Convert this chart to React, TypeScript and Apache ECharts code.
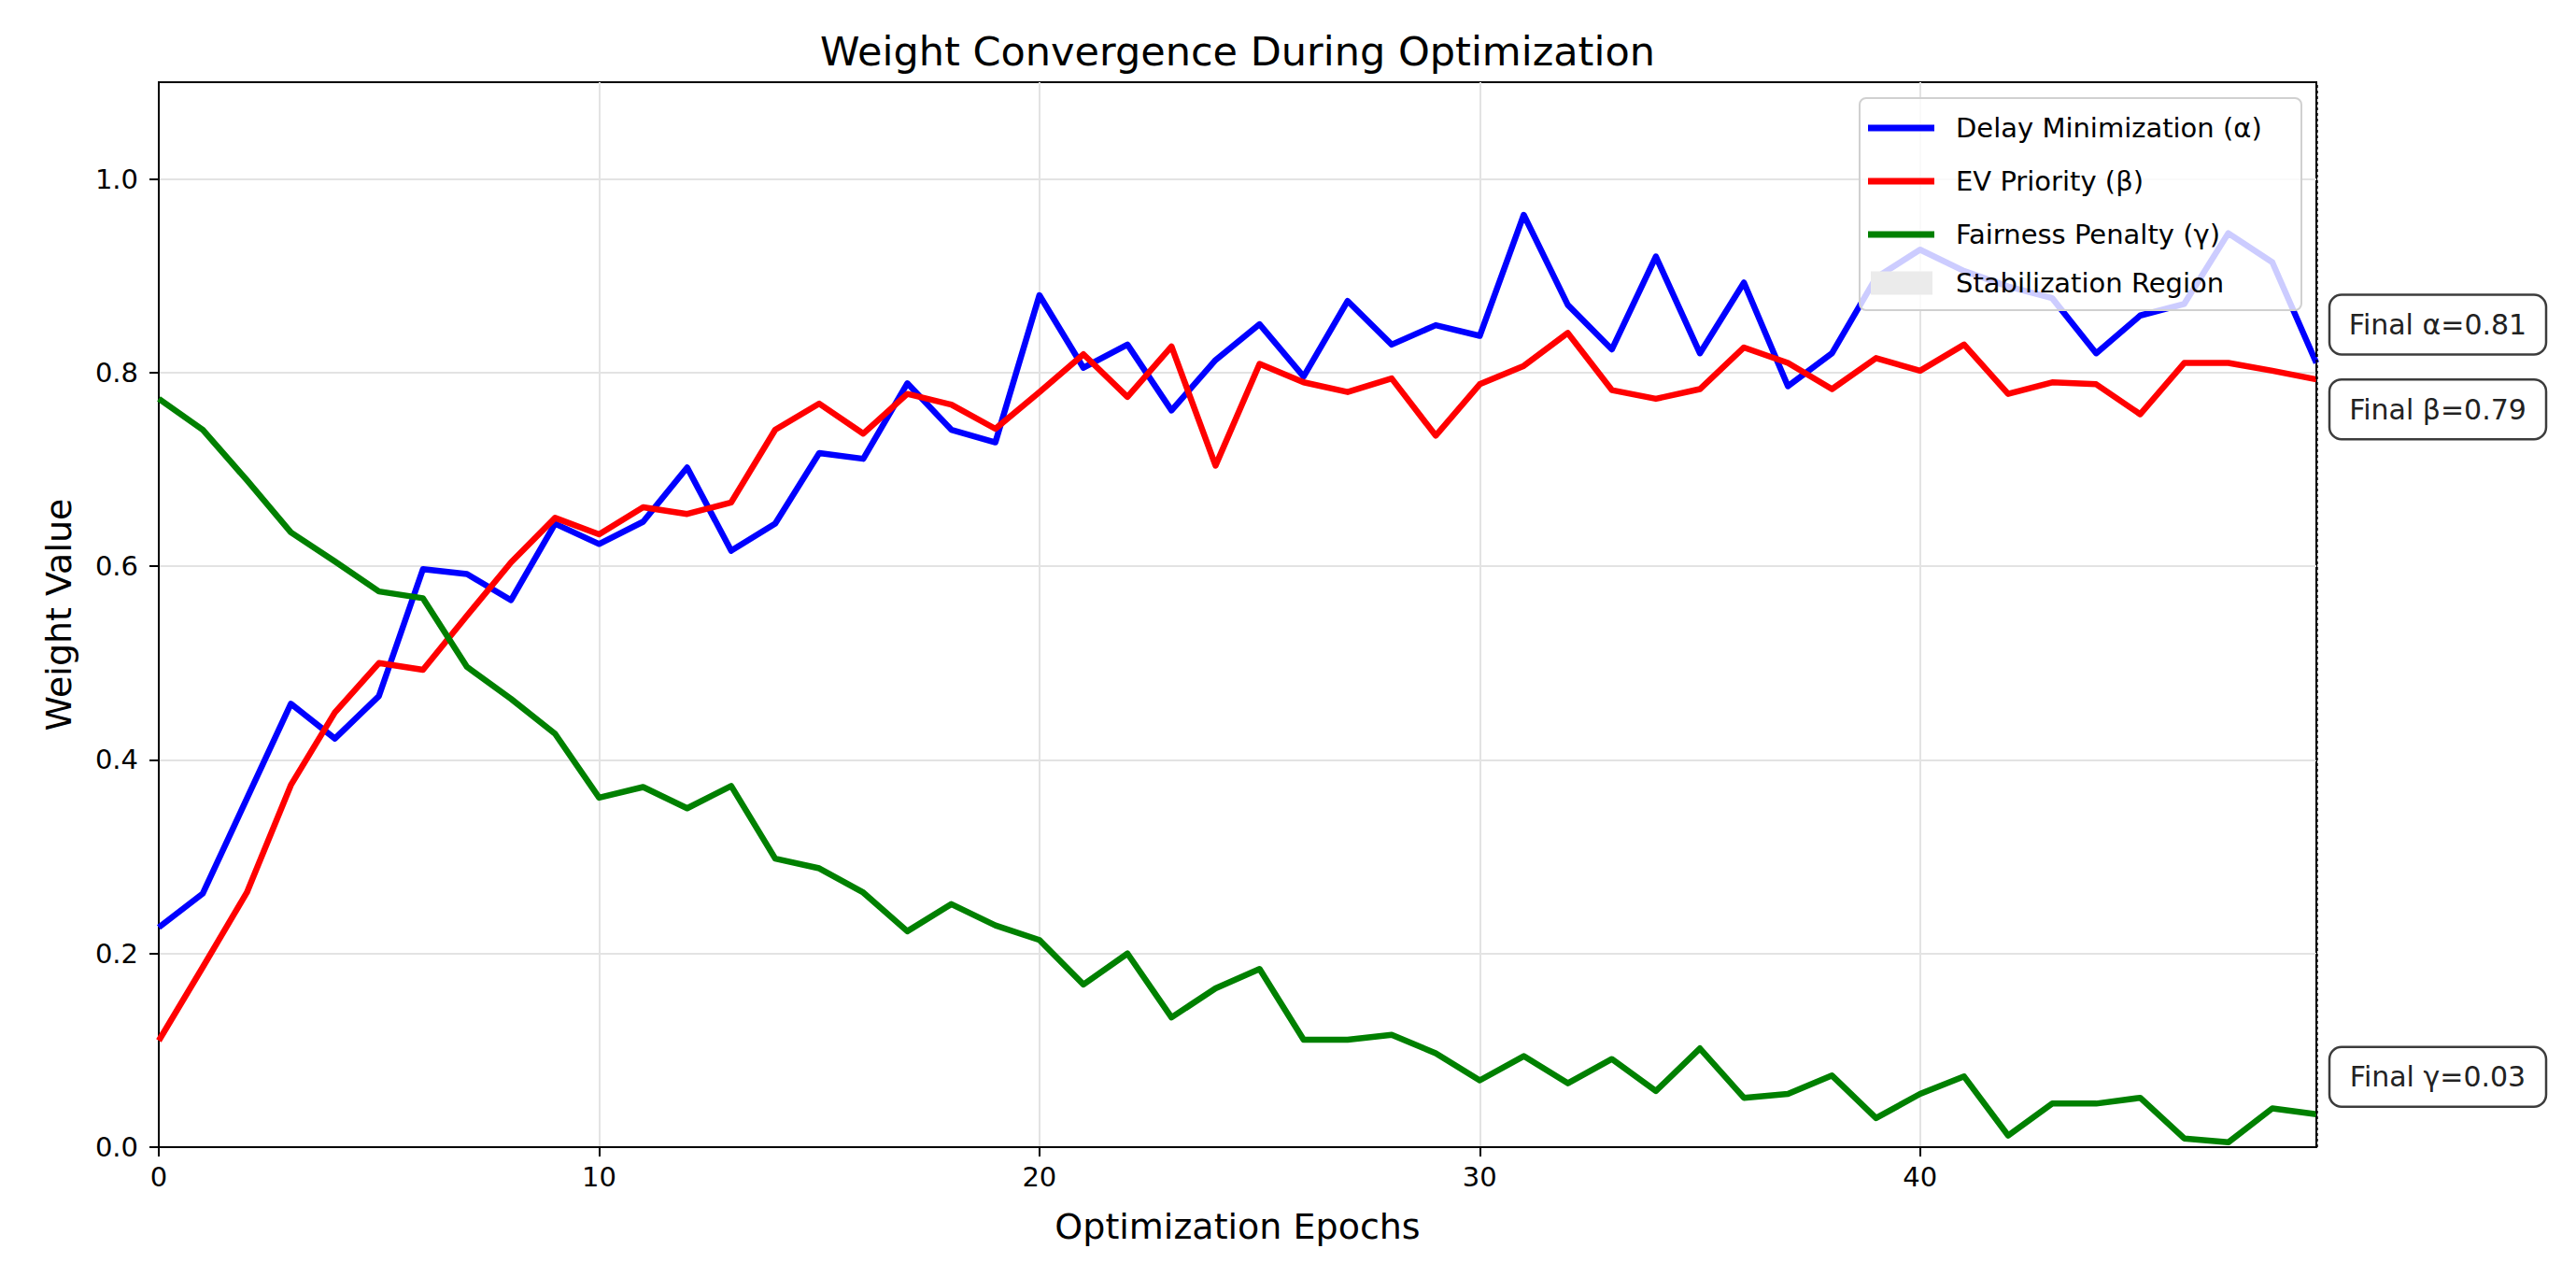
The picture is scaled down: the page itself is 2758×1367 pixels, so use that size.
import React, { useEffect, useRef } from "react";
import * as echarts from "echarts";

const epochs = Array.from({ length: 50 }, (_, i) => i);

const alphaValues = [
  0.227, 0.262, 0.36, 0.458, 0.422, 0.466, 0.597, 0.592, 0.565, 0.644,
  0.623, 0.646, 0.702, 0.616, 0.644, 0.717, 0.711, 0.789, 0.741, 0.728,
  0.88, 0.805, 0.829, 0.761, 0.813, 0.85, 0.796, 0.874, 0.829, 0.849,
  0.838, 0.963, 0.87, 0.824, 0.92, 0.82, 0.893, 0.786, 0.82, 0.898,
  0.927, 0.905, 0.889, 0.877, 0.82, 0.859, 0.871, 0.944, 0.914, 0.81,
];

const betaValues = [
  0.11, 0.186, 0.263, 0.374, 0.449, 0.5, 0.493, 0.549, 0.604, 0.65,
  0.633, 0.661, 0.654, 0.666, 0.741, 0.768, 0.737, 0.778, 0.767, 0.742,
  0.78, 0.819, 0.775, 0.827, 0.704, 0.809, 0.79, 0.78, 0.794, 0.735,
  0.788, 0.807, 0.841, 0.782, 0.773, 0.783, 0.826, 0.81, 0.783, 0.815,
  0.802, 0.829, 0.778, 0.79, 0.788, 0.757, 0.81, 0.81, 0.802, 0.793,
];

const gammaValues = [
  0.773, 0.741, 0.689, 0.635, 0.605, 0.574, 0.567, 0.496, 0.463, 0.427,
  0.361, 0.372, 0.35, 0.373, 0.298, 0.288, 0.263, 0.223, 0.251, 0.229,
  0.214, 0.168, 0.2, 0.134, 0.164, 0.184, 0.111, 0.111, 0.116, 0.097,
  0.069, 0.094, 0.066, 0.091, 0.058, 0.102, 0.051, 0.055, 0.074, 0.03,
  0.055, 0.073, 0.012, 0.045, 0.045, 0.051, 0.009, 0.005, 0.04, 0.034,
];

const xTicks = [0, 10, 20, 30, 40];
const yTicks = [0, 0.2, 0.4, 0.6, 0.8, 1.0];

const seriesNames = [
  "Delay Minimization (α)",
  "EV Priority (β)",
  "Fairness Penalty (γ)",
];
const regionName = "Stabilization Region";
const stabilizationEpoch = 49;

const FONT = "DejaVu Sans";

export default function App() {
  const ref = useRef<HTMLDivElement>(null);

  useEffect(() => {
    if (!ref.current) return;
    const chart = echarts.init(ref.current, null, { renderer: "svg" });

    const toPairs = (vals: number[]) => vals.map((v, i) => [epochs[i], v]);
    const lineSeries = (name: string, vals: number[], color: string, extra: any = {}) => ({
      type: "line",
      name,
      data: toPairs(vals),
      symbol: "none",
      color,
      lineStyle: { color, width: 6.5, join: "round", cap: "butt" },
      z: 2,
      ...extra,
    });

    const option: any = {
      animation: false,
      backgroundColor: "#ffffff",
      textStyle: { fontFamily: FONT },
      title: {
        text: "Weight Convergence During Optimization",
        left: 1325,
        top: 33,
        textAlign: "center",
        padding: 0,
        textStyle: { fontSize: 43, fontWeight: "normal", color: "#000", fontFamily: FONT },
      },
      grid: {
        left: 170,
        right: 278,
        top: 88,
        bottom: 139,
        show: true,
        borderColor: "#000",
        borderWidth: 2,
        backgroundColor: "transparent",
      },
      xAxis: {
        type: "value",
        min: 0,
        max: 49,
        interval: 10,
        name: "Optimization Epochs",
        nameLocation: "middle",
        nameGap: 66,
        nameTextStyle: { fontSize: 38, color: "#000", fontFamily: FONT },
        axisLine: { show: true, onZero: false, lineStyle: { color: "#000", width: 2 } },
        axisTick: { show: true, length: 10, lineStyle: { color: "#000", width: 2 }, customValues: xTicks },
        axisLabel: { fontSize: 29, color: "#000", margin: 17, fontFamily: FONT, customValues: xTicks },
        splitLine: { show: true, lineStyle: { color: "#e3e3e3", width: 2 } },
      },
      yAxis: {
        type: "value",
        min: 0,
        max: 1.1,
        interval: 0.2,
        name: "Weight Value",
        nameLocation: "middle",
        nameGap: 88,
        nameRotate: 90,
        nameTextStyle: { fontSize: 38, color: "#000", fontFamily: FONT },
        axisLine: { show: true, onZero: false, lineStyle: { color: "#000", width: 2 } },
        axisTick: { show: true, length: 10, lineStyle: { color: "#000", width: 2 }, customValues: yTicks },
        axisLabel: {
          fontSize: 29,
          color: "#000",
          margin: 22,
          fontFamily: FONT,
          customValues: yTicks,
          formatter: (v: number) => v.toFixed(1),
        },
        splitLine: { show: true, lineStyle: { color: "#e3e3e3", width: 2 } },
      },
      legend: [
        {
          data: seriesNames,
          orient: "vertical",
          left: 2000,
          top: 122,
          itemWidth: 71,
          itemHeight: 7,
          itemGap: 27,
          icon: "rect",
          padding: 0,
          selectedMode: false,
          z: 6,
          textStyle: { fontSize: 29, lineHeight: 30, color: "#000", fontFamily: FONT, padding: [0, 0, 0, 18] },
        },
        {
          data: [regionName],
          orient: "vertical",
          left: 2003,
          top: 288,
          itemWidth: 66,
          itemHeight: 25,
          icon: "rect",
          padding: 0,
          selectedMode: false,
          z: 6,
          textStyle: { fontSize: 29, lineHeight: 30, color: "#000", fontFamily: FONT, padding: [0, 0, 0, 20] },
        },
      ],
      series: [
        lineSeries(seriesNames[0], alphaValues, "#0000ff"),
        lineSeries(seriesNames[1], betaValues, "#ff0000"),
        lineSeries(seriesNames[2], gammaValues, "#008000", {
          markLine: {
            silent: true,
            symbol: "none",
            label: { show: false },
            lineStyle: { type: "dotted", color: "#000", width: 3, opacity: 0.75 },
            data: [{ xAxis: stabilizationEpoch }],
          },
        }),
        {
          type: "line",
          name: regionName,
          data: [],
          color: "#ebebeb",
          itemStyle: { color: "#ebebeb" },
          symbol: "none",
        },
      ],
    };

    chart.setOption(option);

    const last = epochs.length - 1;
    const finals = [
      { label: "Final α=", v: alphaValues[last], dy: -41 },
      { label: "Final β=", v: betaValues[last], dy: 32 },
      { label: "Final γ=", v: gammaValues[last], dy: -40 },
    ];
    const graphics: any[] = [
      {
        type: "rect",
        z: 5,
        shape: { x: 1991, y: 105, width: 473, height: 227, r: 7 },
        style: { fill: "rgba(255,255,255,0.8)", stroke: "#d0d0d0", lineWidth: 2 },
        silent: true,
      },
    ];
    finals.forEach((f) => {
      const p = chart.convertToPixel({ gridIndex: 0 }, [epochs[last], f.v]) as number[];
      const bx = p[0] + 14;
      const cy = p[1] + f.dy;
      graphics.push({
        type: "rect",
        z: 7,
        shape: { x: bx, y: cy - 32, width: 232, height: 64, r: 13 },
        style: { fill: "#ffffff", stroke: "#3c3c3c", lineWidth: 2.5 },
        silent: true,
      });
      graphics.push({
        type: "text",
        z: 8,
        x: bx + 116,
        y: cy,
        style: {
          text: f.label + f.v.toFixed(2),
          fill: "#222",
          fontSize: 30,
          fontFamily: FONT,
          align: "center",
          verticalAlign: "middle",
        },
        silent: true,
      });
    });
    chart.setOption({ graphic: graphics });

    return () => chart.dispose();
  }, []);

  return (
    <div
      ref={ref}
      style={{ position: "fixed", left: 0, top: 0, width: 2758, height: 1367, background: "#fff" }}
    />
  );
}
